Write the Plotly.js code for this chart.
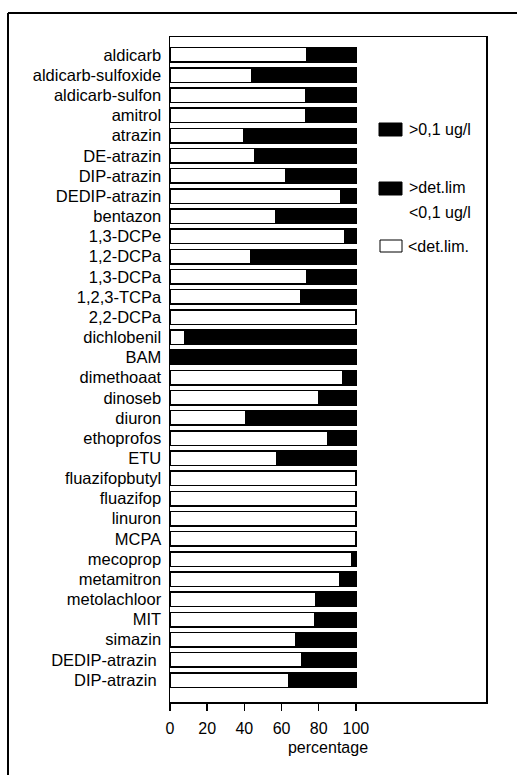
<!DOCTYPE html>
<html>
<head>
<meta charset="utf-8">
<script src="https://cdn.plot.ly/plotly-3.0.1.min.js"></script>
<style>html,body{margin:0;padding:0;background:#fff;overflow:hidden;}#chart{width:517px;height:775px;}</style>
</head>
<body>
<div id="chart"></div>
<script>
// ---- data ----
var categories = ["aldicarb","aldicarb-sulfoxide","aldicarb-sulfon","amitrol","atrazin","DE-atrazin","DIP-atrazin","DEDIP-atrazin","bentazon","1,3-DCPe","1,2-DCPa","1,3-DCPa","1,2,3-TCPa","2,2-DCPa","dichlobenil","BAM","dimethoaat","dinoseb","diuron","ethoprofos","ETU","fluazifopbutyl","fluazifop","linuron","MCPA","mecoprop","metamitron","metolachloor","MIT","simazin","DEDIP-atrazin ","DIP-atrazin "];
var pctBelowDetLim = [73.4, 44, 73, 73, 39.8, 45.6, 62, 91.6, 56.9, 94, 43.4, 73.7, 70.4, 100, 7.8, 0, 92.8, 80.2, 41, 85, 57.2, 100, 100, 100, 100, 98, 91.4, 78.3, 78, 67.5, 70.7, 64];
var pctAboveDetLim = [26.6, 56, 27, 27, 60.2, 54.4, 38, 8.4, 43.1, 6, 56.6, 26.3, 29.6, 0, 92.2, 100, 7.2, 19.8, 59, 15, 42.8, 0, 0, 0, 0, 2, 8.6, 21.7, 22, 32.5, 29.3, 36];
var legendLabels = [">0,1 ug/l", ">det.lim", "&lt;0,1 ug/l", "&lt;det.lim."];
var xTicks = [0, 20, 40, 60, 80, 100];
var xTitle = "percentage";

// ---- geometry helpers (pixel -> paper) ----
var PL = 170, PR = 486, PT = 37, PB = 702;
function px(x){ return (x - PL) / (PR - PL); }
function py(y){ return (PB - y) / (PB - PT); }
var FONT = "Liberation Sans, Arial, Helvetica, sans-serif";

var traces = [
  {type:"bar", orientation:"h", y:categories, x:pctBelowDetLim, name:"<det.lim.",
   marker:{color:"#ffffff", line:{color:"#000000", width:1.5}}, hoverinfo:"x+y"},
  {type:"bar", orientation:"h", y:categories, x:pctAboveDetLim, name:">det.lim",
   marker:{color:"#000000", line:{color:"#000000", width:1.5}}, hoverinfo:"x+y"}
];

var shapes = [
  // outer frame (left + top edges, the rest runs off the page)
  {type:"line", xref:"paper", yref:"paper", x0:px(8), x1:px(8), y0:py(790), y1:py(13),
   line:{color:"#000", width:2}},
  {type:"line", xref:"paper", yref:"paper", x0:px(8), x1:px(540), y0:py(13), y1:py(13),
   line:{color:"#000", width:2}},
  // legend boxes
  {type:"rect", xref:"paper", yref:"paper", x0:px(379), x1:px(402), y0:py(136), y1:py(123),
   line:{color:"#000", width:1}, fillcolor:"#000"},
  {type:"rect", xref:"paper", yref:"paper", x0:px(379), x1:px(402), y0:py(195), y1:py(182),
   line:{color:"#000", width:1}, fillcolor:"#000"},
  {type:"rect", xref:"paper", yref:"paper", x0:px(380), x1:px(402), y0:py(252), y1:py(240),
   line:{color:"#000", width:1}, fillcolor:"#fff"}
];

function ann(text, x, y){
  return {text:text, xref:"paper", yref:"paper", x:px(x), y:py(y), xanchor:"left", yanchor:"middle",
          showarrow:false, font:{family:FONT, size:16, color:"#000"}};
}
var annotations = [
  ann(legendLabels[0], 407, 129),
  ann(legendLabels[1], 407, 188),
  ann(legendLabels[2], 407, 212),
  ann(legendLabels[3], 406, 246)
];

var layout = {
  width:517, height:775,
  margin:{l:PL, r:517-PR, t:PT, b:775-PB, pad:0},
  paper_bgcolor:"#fff", plot_bgcolor:"#fff",
  barmode:"stack", bargap:0.28, showlegend:false,
  font:{family:FONT, size:16, color:"#000"},
  xaxis:{range:[0, 170], tickvals:xTicks, ticktext:xTicks.map(String), ticks:"outside", ticklen:7, tickwidth:1.5,
         tickcolor:"#000", showgrid:false, zeroline:false, showline:true, mirror:true, linecolor:"#000", linewidth:1.5,
         tickfont:{family:FONT, size:16, color:"#000"}, ticklabelstandoff:4,
         title:{text:xTitle, font:{family:FONT, size:16, color:"#000"}, standoff:6}},
  yaxis:{type:"category", categoryorder:"array", categoryarray:categories, range:[32.09, -0.89],
         ticks:"", showgrid:false, zeroline:false, showline:true, mirror:true, linecolor:"#000", linewidth:1.5,
         tickfont:{family:FONT, size:16.5, color:"#000"}, ticklabelstandoff:4},
  shapes:shapes, annotations:annotations
};

Plotly.newPlot("chart", traces, layout, {displayModeBar:false, staticPlot:true});
</script>
</body>
</html>
